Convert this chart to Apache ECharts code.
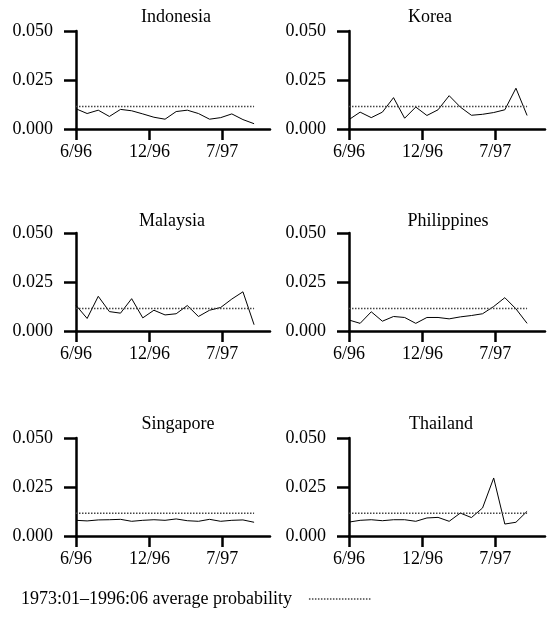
<!DOCTYPE html>
<html>
<head>
<meta charset="utf-8">
<script src="https://cdn.jsdelivr.net/npm/echarts@6/dist/echarts.min.js"></script>
<style>html,body{margin:0;padding:0;background:#fff}#c{width:551px;height:623px}</style>
</head>
<body>
<div id="c"></div>
<script>
// Months 6/96 .. 10/97 (index 0..16)
var months = [0,1,2,3,4,5,6,7,8,9,10,11,12,13,14,15,16];
var xTickPositions = [0, 6.6, 13.15];
var xTickLabels = ['6/96', '12/96', '7/97'];
var countries = ['Indonesia', 'Korea', 'Malaysia', 'Philippines', 'Singapore', 'Thailand'];

var indonesia   = [0.0103,0.0079,0.0096,0.0064,0.0100,0.0093,0.0077,0.0060,0.0050,0.0089,0.0096,0.0079,0.0050,0.0058,0.0077,0.0048,0.0027];
var korea       = [0.0048,0.0086,0.0058,0.0086,0.0160,0.0055,0.0112,0.0069,0.0098,0.0170,0.0112,0.0070,0.0075,0.0084,0.0098,0.0208,0.0069];
var malaysia    = [0.0131,0.0064,0.0177,0.0099,0.0091,0.0165,0.0067,0.0106,0.0082,0.0088,0.0130,0.0074,0.0106,0.0120,0.0163,0.0200,0.0032];
var philippines = [0.0056,0.0039,0.0098,0.0050,0.0074,0.0069,0.0039,0.0069,0.0069,0.0062,0.0072,0.0079,0.0088,0.0125,0.0170,0.0113,0.0039];
var singapore   = [0.0080,0.0077,0.0082,0.0083,0.0085,0.0075,0.0080,0.0083,0.0080,0.0087,0.0078,0.0075,0.0085,0.0075,0.0080,0.0082,0.0070];
var thailand    = [0.0071,0.0080,0.0083,0.0078,0.0083,0.0083,0.0075,0.0092,0.0095,0.0075,0.0117,0.0094,0.0143,0.0296,0.0061,0.0070,0.0126];
var averageProb = [0.0115, 0.0115, 0.0115, 0.0115, 0.0116, 0.0116];
var legendLabel = '1973:01\u20131996:06 average probability';

var seriesValues = [indonesia, korea, malaysia, philippines, singapore, thailand];

var FONT = 'Liberation Serif';
var gridLefts = [76, 349];
var gridWidths = [194, 196];
var gridTops = [31, 233, 438];
var gridH = 98;
var titleCenters = [171, 425, 167, 443, 173, 436];
var titleTops = [3, 207, 410];

var grids = [], xAxes = [], yAxes = [], series = [], titles = [];
for (var k = 0; k < 6; k++) {
  var col = k % 2, row = Math.floor(k / 2);
  grids.push({left: gridLefts[col], top: gridTops[row], width: gridWidths[col], height: gridH, containLabel: false});
  var xmax = gridWidths[col] / 11.13;
  xAxes.push({
    type: 'value', gridIndex: k, min: 0, max: xmax,
    axisLine: {show: true, onZero: false, lineStyle: {color: '#000', width: 2.5}},
    axisTick: {show: true, length: 11, lineStyle: {color: '#000', width: 2.5}, customValues: xTickPositions},
    axisLabel: {show: true, margin: 14, color: '#000', fontFamily: FONT, fontSize: 18,
      customValues: xTickPositions,
      formatter: function (v) {
        for (var i = 0; i < xTickPositions.length; i++) if (Math.abs(v - xTickPositions[i]) < 1e-6) return xTickLabels[i];
        return '';
      }},
    splitLine: {show: false}
  });
  yAxes.push({
    type: 'value', gridIndex: k, min: 0, max: 0.05, interval: 0.025,
    axisLine: {show: true, lineStyle: {color: '#000', width: 2.5}},
    axisTick: {show: true, length: 12, lineStyle: {color: '#000', width: 2.5}},
    axisLabel: {show: true, margin: 23, color: '#000', fontFamily: FONT, fontSize: 18,
      formatter: function (v) { return v.toFixed(3); }},
    splitLine: {show: false}
  });
  series.push({
    type: 'line', xAxisIndex: k, yAxisIndex: k, name: countries[k],
    data: months.map(function (m, i) { return [m, seriesValues[k][i]]; }),
    symbol: 'none', lineStyle: {color: '#000', width: 1}, silent: true
  });
  series.push({
    type: 'line', xAxisIndex: k, yAxisIndex: k, name: legendLabel,
    data: [[months[0], averageProb[k]], [months[months.length - 1], averageProb[k]]],
    symbol: 'none', lineStyle: {color: '#444', width: 1.5, type: 'dotted'}, itemStyle: {color: '#444'}, silent: true
  });
  titles.push({
    text: countries[k], left: titleCenters[k], top: titleTops[row], textAlign: 'center',
    textStyle: {fontFamily: FONT, fontSize: 18, fontWeight: 'normal', color: '#000'}
  });
}

var chart = echarts.init(document.getElementById('c'), null, {renderer: 'canvas'});
chart.setOption({
  animation: false,
  backgroundColor: '#fff',
  title: titles,
  grid: grids,
  xAxis: xAxes,
  yAxis: yAxes,
  series: series,
  legend: {
    data: [legendLabel], left: 16, top: 585, align: 'right', itemWidth: 62, itemHeight: 10,
    selectedMode: false,
    itemStyle: {opacity: 0},
    lineStyle: {color: '#444', width: 1.5, type: 'dotted'},
    textStyle: {fontFamily: FONT, fontSize: 18, color: '#000', padding: [0, 12, 0, 0]}
  }
});
</script>
</body>
</html>
